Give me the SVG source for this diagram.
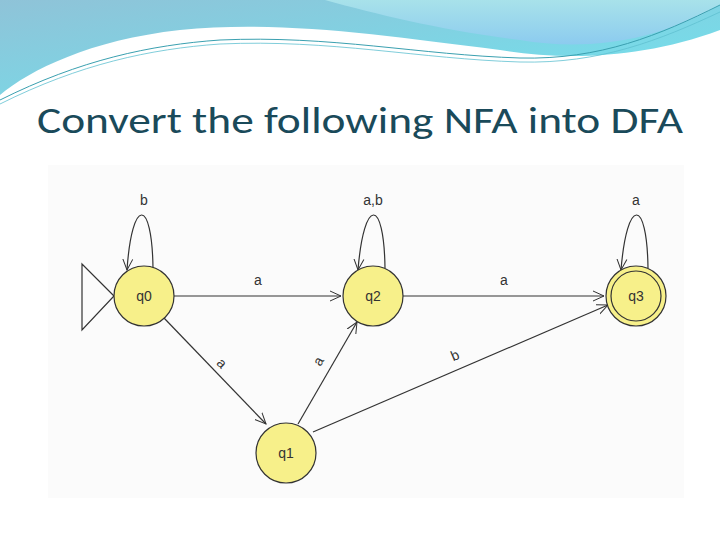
<svg xmlns="http://www.w3.org/2000/svg" width="720" height="540" viewBox="0 0 720 540">
<defs>
<linearGradient id="g1" x1="0" y1="0" x2="1" y2="1"><stop offset="0" stop-color="#8fc3d8"/><stop offset="1" stop-color="#6fe3ee"/></linearGradient>
<linearGradient id="g2" x1="0" y1="0" x2="0" y2="1"><stop offset="0" stop-color="#a8e2ea"/><stop offset="1" stop-color="#8ccbef"/></linearGradient>
<marker id="ar" viewBox="0 0 12 12" refX="11" refY="6" markerWidth="12" markerHeight="12" orient="auto" markerUnits="userSpaceOnUse"><path d="M0,1 L11,6 L0,11" fill="none" stroke="#333" stroke-width="1"/></marker>
<style>
.n circle{fill:#f7f08a;stroke:#333;stroke-width:1.2}
.n text,.lb{font-family:"Liberation Sans",Arial,sans-serif;font-size:14px;fill:#333;text-anchor:middle}
.e{fill:none;stroke:#333;stroke-width:1.2;marker-end:url(#ar)}
</style>
</defs>
<rect width="720" height="540" fill="#fff"/>
<path d="M0,0 H720 V30 C640,60 560,60 500,50 C380,35 280,20 180,30 C90,40 30,70 0,95 Z" fill="url(#g1)"/>
<path d="M325,0 H720 V5 C650,45 580,50 520,40 C440,30 380,15 325,0 Z" fill="url(#g2)"/>
<path d="M0,100 C80,60 150,45 220,40 C330,35 420,55 520,58 C600,60 660,35 720,5" fill="none" stroke="#3aa0b0" stroke-width="1"/>
<path d="M0,104 C80,64 150,49 220,44 C330,39 420,59 520,62 C600,64 660,40 720,12" fill="none" stroke="#60c0d0" stroke-width="0.8"/>
<text x="37" y="133" textLength="646" lengthAdjust="spacingAndGlyphs" font-family="Calibri,'Open Sans','Liberation Sans',sans-serif" font-size="36" fill="#1a4a5a">Convert the following NFA into DFA</text>
<rect x="48" y="165" width="636" height="333" fill="#fbfbfb"/>
<g id="edges">
<path class="e" d="M174,296 H341"/>
<path class="e" d="M403,296 H604"/>
<path class="e" d="M164,318 L266,424"/>
<path class="e" d="M298,424 L357,322"/>
<path class="e" d="M313,432 L608,305"/>
<path class="e" d="M153,268 C152,197 132,197 127,270"/>
<path class="e" d="M385,268 C384,197 364,197 358,270"/>
<path class="e" d="M648,268 C647,197 627,197 621,270"/>
<path d="M114,296 L82,264 V330 Z" fill="none" stroke="#333" stroke-width="1.2"/>
</g>
<g id="labels">
<text class="lb" x="144" y="205">b</text>
<text class="lb" x="373" y="205">a,b</text>
<text class="lb" x="636" y="205">a</text>
<text class="lb" x="258" y="285">a</text>
<text class="lb" x="504" y="285">a</text>
<text class="lb" x="222" y="368" transform="rotate(45 222 363)">a</text>
<text class="lb" x="318" y="366" transform="rotate(-60 318 361)">a</text>
<text class="lb" x="455" y="360" transform="rotate(-23 455 355)">b</text>
</g>
<g id="q0" class="n"><circle cx="144" cy="296" r="30"/><text x="144" y="301">q0</text></g>
<g id="q2" class="n"><circle cx="373" cy="296" r="30"/><text x="373" y="301">q2</text></g>
<g id="q3" class="n"><circle cx="636" cy="296" r="30"/><circle cx="636" cy="296" r="25"/><text x="636" y="301">q3</text></g>
<g id="q1" class="n"><circle cx="286" cy="453" r="30"/><text x="286" y="458">q1</text></g>
</svg>
